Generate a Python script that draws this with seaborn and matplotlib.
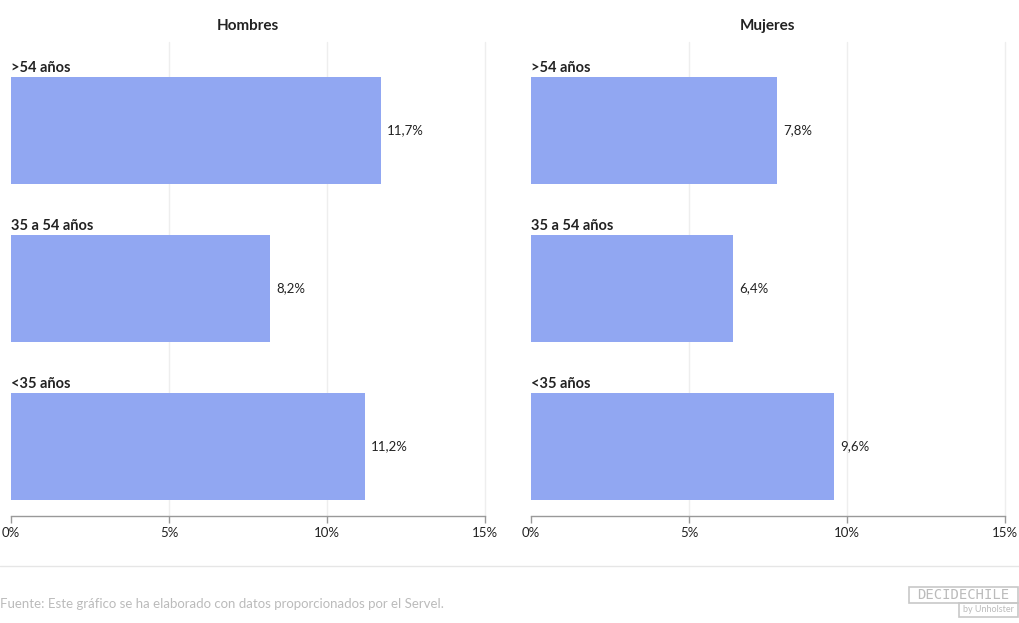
import matplotlib
matplotlib.use("Agg")
import matplotlib.pyplot as plt
import seaborn as sns
import pandas as pd
from matplotlib.patches import Rectangle
from matplotlib.lines import Line2D

categorias = [">54 años", "35 a 54 años", "<35 años"]
hombres = [11.7, 8.2, 11.2]
mujeres = [7.8, 6.4, 9.6]
paneles = ["Hombres", "Mujeres"]
ticks = [0, 5, 10, 15]
tick_labels = ["0%", "5%", "10%", "15%"]
fuente = "Fuente: Este gráfico se ha elaborado con datos proporcionados por el Servel."

sns.set_theme(style="white")
plt.rcParams["font.family"] = ["Lato", "DejaVu Sans"]

BAR = "#91a7f2"
TXT = "#222222"
W, H = 1020, 623
fig = plt.figure(figsize=(W / 100, H / 100), dpi=100)

def ax_rect(x0, x1, y0, y1):
    return [x0 / W, 1 - y1 / H, (x1 - x0) / W, (y1 - y0) / H]

data = {"Hombres": hombres, "Mujeres": mujeres}
lefts = [(11, 485), (531, 1005)]
for (x0, x1), panel in zip(lefts, paneles):
    ax = fig.add_axes(ax_rect(x0, x1, 42, 516))
    df = pd.DataFrame({"edad": categorias, "valor": data[panel]})
    sns.barplot(data=df, x="valor", y="edad", order=categorias, color=BAR,
                saturation=1, width=0.677, ax=ax)
    ax.set_xlim(0, 15)
    ax.set_ylim(2.443, -0.56)
    ax.set_xticks(ticks)
    ax.set_xticklabels(tick_labels, fontsize=9.5, color=TXT)
    ax.set_yticks([])
    ax.set_xlabel("")
    ax.set_ylabel("")
    for s in ["top", "right", "left"]:
        ax.spines[s].set_visible(False)
    ax.spines["bottom"].set_color("#999999")
    ax.spines["bottom"].set_linewidth(1)
    ax.tick_params(axis="x", bottom=True, direction="out", length=5, width=1,
                   color="#999999", pad=3)
    for t in ticks[1:]:
        ax.axvline(t, color="#eeeeee", lw=1, zorder=0, clip_on=False)
    ax.set_axisbelow(True)
    for p in ax.patches:
        p.set_edgecolor("none")
    labels = [f"{v:.1f}".replace(".", ",") + "%" for v in data[panel]]
    ax.bar_label(ax.containers[0], labels=labels, padding=4.5, fontsize=9.5, color=TXT)
    for i, c in enumerate(categorias):
        ax.annotate(c, xy=(0, i - 0.677 / 2), xytext=(0, 1.5), textcoords="offset points",
                    ha="left", va="bottom", fontsize=10.5, fontweight="bold", color=TXT)
    fig.text(((x0 + x1) / 2) / W, 1 - 26 / H, panel, ha="center", va="center",
             fontsize=11, fontweight="bold", color=TXT)

fig.add_artist(Line2D([0, 1], [1 - 566 / H, 1 - 566 / H], color="#e6e6e6", lw=1))
fig.text(0 / W, 1 - 604 / H, fuente, ha="left", va="center", fontsize=9.5, color="#bbbbbb")

# logo
fig.add_artist(Rectangle((909 / W, 1 - 603 / H), 109 / W, 16 / H, fill=False,
                         edgecolor="#c8c8c8", lw=1.2, transform=fig.transFigure))
fig.text(963.5 / W, 1 - 595 / H, "DECIDECHILE", ha="center", va="center",
         fontsize=10, color="#bbbbbb", family="DejaVu Sans Mono")
fig.add_artist(Rectangle((959 / W, 1 - 617 / H), 59 / W, 14 / H, fill=False,
                         edgecolor="#c8c8c8", lw=1.2, transform=fig.transFigure))
fig.text(988.5 / W, 1 - 610 / H, "by Unholster", ha="center", va="center",
         fontsize=6.5, color="#bbbbbb")

fig.savefig("out.png", dpi=100)
